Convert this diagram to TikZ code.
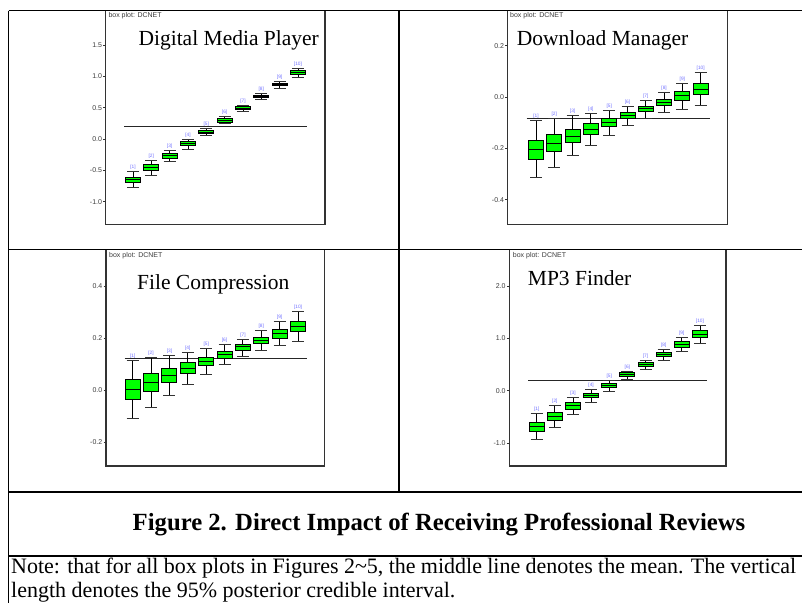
\documentclass[tikz,border=0pt]{standalone}
\usepackage{fontspec}
\setmainfont{Liberation Serif}
\newfontfamily\plotsans{Liberation Sans}
\definecolor{boxgreen}{RGB}{0,255,0}
\definecolor{labblue}{RGB}{110,110,255}
\definecolor{tickgray}{RGB}{60,60,60}
\tikzset{
  tabline/.style={line width=1.7pt, black},
  frameline/.style={line width=1.2pt, black!80},
  refline/.style={line width=1pt, black!85},
  whisk/.style={line width=0.9pt, black},
  capline/.style={line width=1pt, black!80},
  boxst/.style={draw=black, fill=boxgreen, line width=1pt},
  meanl/.style={line width=0.9pt, black},
  blab/.style={font=\plotsans\fontsize{4.8}{5}\selectfont, text=labblue, inner sep=0pt, anchor=base},
  ticklab/.style={font=\plotsans\fontsize{7}{8}\selectfont, text=tickgray, inner sep=0pt, anchor=east},
  bptitle/.style={font=\plotsans\fontsize{7}{8}\selectfont, text=tickgray, inner sep=0pt, anchor=base west},
  ptitle/.style={font=\fontsize{21.5}{24}\selectfont, inner sep=0pt, anchor=base},
  notetext/.style={font=\fontsize{22}{24}\selectfont, inner sep=0pt, anchor=base west},
}
% panel parameters: \PZ y of zero, \PU px per unit, \PX first box x, \PD spacing, \PN panel id
\newcommand\bpbox[6]{%
  \pgfmathsetmacro\bpcx{\PX+(#1-1)*\PD}%
  \pgfmathsetmacro\bpylw{\PZ-(#2)*\PU}%
  \pgfmathsetmacro\bpybl{\PZ-(#3)*\PU}%
  \pgfmathsetmacro\bpym{\PZ-(#4)*\PU}%
  \pgfmathsetmacro\bpybh{\PZ-(#5)*\PU}%
  \pgfmathsetmacro\bpyhw{\PZ-(#6)*\PU}%
  \draw[whisk] (\bpcx,\bpylw) -- (\bpcx,\bpyhw);
  \draw[capline] (\bpcx-6,\bpylw) -- (\bpcx+6,\bpylw);
  \draw[capline] (\bpcx-6,\bpyhw) -- (\bpcx+6,\bpyhw);
  \draw[boxst] (\bpcx-7.5,\bpybh) rectangle (\bpcx+7.5,\bpybl);
  \draw[meanl] (\bpcx-7.5,\bpym) -- (\bpcx+7.5,\bpym);
  \node[blab] (lab\PN-#1) at (\bpcx,\bpyhw-3) {[#1]};
}
\newcommand\bptick[3]{% frame left, value, text
  \pgfmathsetmacro\bpty{\PZ-(#2)*\PU}%
  \draw[frameline, line width=0.8pt] (#1-2.5,\bpty) -- (#1,\bpty);
  \node[ticklab] at (#1-3.5,\bpty) {#3};
}
\begin{document}
\begin{tikzpicture}[x=1pt,y=-1pt]
\useasboundingbox (0,0) rectangle (802,603);
% ---------- table ----------
\draw[tabline] (8.5,10.5) -- (802,10.5);
\draw[tabline] (8.5,10.5) -- (8.5,603);
\draw[tabline] (399,10.5) -- (399,491.7);
\draw[tabline] (8.5,249.5) -- (802,249.5);
\draw[tabline] (8.5,491.7) -- (802,491.7);
\draw[tabline] (8.5,555.7) -- (802,555.7);

% ---------- Panel 1: Digital Media Player ----------
\def\PZ{139}\def\PU{62.67}\def\PX{133}\def\PD{18.33}\def\PN{a}
\draw[frameline] (105.7,10.5) -- (105.7,224.3) -- (325,224.3) -- (325,10.5);
\node[bptitle] (bpa) at (108.3,17.6) {box plot: DCNET};
\node[ptitle] (ta) at (228.7,45) {Digital Media Player};
\bptick{105.7}{1.5}{1.5}
\bptick{105.7}{1.0}{1.0}
\bptick{105.7}{0.5}{0.5}
\bptick{105.7}{0.0}{0.0}
\bptick{105.7}{-0.5}{-0.5}
\bptick{105.7}{-1.0}{-1.0}
\draw[refline] (124,126) -- (307,126);
\bpbox{1}{-0.78}{-0.70}{-0.65}{-0.61}{-0.52}
\bpbox{2}{-0.58}{-0.51}{-0.46}{-0.41}{-0.35}
\bpbox{3}{-0.36}{-0.31}{-0.27}{-0.23}{-0.18}
\bpbox{4}{-0.16}{-0.106}{-0.075}{-0.04}{-0.005}
\bpbox{5}{0.053}{0.08}{0.11}{0.14}{0.175}
\bpbox{6}{0.245}{0.27}{0.30}{0.33}{0.356}
\bpbox{7}{0.44}{0.468}{0.49}{0.516}{0.537}
\bpbox{8}{0.63}{0.665}{0.68}{0.70}{0.72}
\bpbox{9}{0.81}{0.856}{0.872}{0.89}{0.915}
\bpbox{10}{0.984}{1.03}{1.064}{1.09}{1.12}

% ---------- Panel 2: Download Manager ----------
\def\PZ{97}\def\PU{256.5}\def\PX{536}\def\PD{18.3}\def\PN{b}
\draw[frameline] (507.7,10.5) -- (507.7,224.3) -- (727.7,224.3) -- (727.7,10.5);
\node[bptitle] (bpb) at (510,17.6) {box plot: DCNET};
\node[ptitle, anchor=base west] (tb) at (516.7,45) {Download Manager};
\bptick{507.7}{0.2}{0.2}
\bptick{507.7}{0.0}{0.0}
\bptick{507.7}{-0.2}{-0.2}
\bptick{507.7}{-0.4}{-0.4}
\draw[refline] (526.7,118.7) -- (710,118.7);
\bpbox{1}{-0.314}{-0.243}{-0.203}{-0.168}{-0.092}
\bpbox{2}{-0.273}{-0.211}{-0.181}{-0.148}{-0.083}
\bpbox{3}{-0.230}{-0.178}{-0.152}{-0.126}{-0.071}
\bpbox{4}{-0.188}{-0.147}{-0.125}{-0.105}{-0.065}
\bpbox{5}{-0.149}{-0.116}{-0.099}{-0.083}{-0.052}
\bpbox{6}{-0.112}{-0.084}{-0.073}{-0.062}{-0.036}
\bpbox{7}{-0.083}{-0.058}{-0.045}{-0.038}{-0.014}
\bpbox{8}{-0.061}{-0.035}{-0.021}{-0.009}{0.018}
\bpbox{9}{-0.047}{-0.012}{0.008}{0.023}{0.053}
\bpbox{10}{-0.034}{0.008}{0.030}{0.051}{0.095}

% ---------- Panel 3: File Compression ----------
\def\PZ{390.3}\def\PU{260}\def\PX{132.7}\def\PD{18.37}\def\PN{c}
\draw[frameline] (106,249.5) -- (106,466) -- (324.3,466) -- (324.3,249.5);
\node[bptitle] (bpc) at (109,257.6) {box plot: DCNET};
\node[ptitle] (tc) at (213.3,289) {File Compression};
\bptick{106}{0.4}{0.4}
\bptick{106}{0.2}{0.2}
\bptick{106}{0.0}{0.0}
\bptick{106}{-0.2}{-0.2}
\draw[refline] (124.7,358.3) -- (306.7,358.3);
\bpbox{1}{-0.109}{-0.035}{0.004}{0.042}{0.115}
\bpbox{2}{-0.065}{-0.003}{0.032}{0.065}{0.126}
\bpbox{3}{-0.021}{0.029}{0.058}{0.085}{0.135}
\bpbox{4}{0.021}{0.063}{0.085}{0.106}{0.147}
\bpbox{5}{0.060}{0.095}{0.112}{0.127}{0.159}
\bpbox{6}{0.099}{0.124}{0.138}{0.150}{0.177}
\bpbox{7}{0.131}{0.155}{0.167}{0.178}{0.197}
\bpbox{8}{0.155}{0.181}{0.192}{0.204}{0.229}
\bpbox{9}{0.173}{0.201}{0.218}{0.233}{0.265}
\bpbox{10}{0.187}{0.226}{0.246}{0.265}{0.305}

% ---------- Panel 4: MP3 Finder ----------
\def\PZ{390.7}\def\PU{52.33}\def\PX{536.7}\def\PD{18.14}\def\PN{d}
\draw[frameline] (509.3,249.5) -- (509.3,466) -- (726,466) -- (726,249.5);
\node[bptitle] (bpd) at (512.7,257.6) {box plot: DCNET};
\node[ptitle, anchor=base west] (td) at (527.7,285) {MP3 Finder};
\bptick{509.3}{2.0}{2.0}
\bptick{509.3}{1.0}{1.0}
\bptick{509.3}{0.0}{0.0}
\bptick{509.3}{-1.0}{-1.0}
\draw[refline] (528.3,380.3) -- (707.3,380.3);
\bpbox{1}{-0.93}{-0.77}{-0.69}{-0.60}{-0.44}
\bpbox{2}{-0.70}{-0.57}{-0.49}{-0.41}{-0.29}
\bpbox{3}{-0.46}{-0.35}{-0.29}{-0.23}{-0.13}
\bpbox{4}{-0.22}{-0.13}{-0.09}{-0.05}{0.025}
\bpbox{5}{-0.006}{0.064}{0.10}{0.14}{0.19}
\bpbox{6}{0.217}{0.27}{0.306}{0.34}{0.376}
\bpbox{7}{0.41}{0.465}{0.50}{0.535}{0.573}
\bpbox{8}{0.58}{0.656}{0.694}{0.726}{0.78}
\bpbox{9}{0.74}{0.834}{0.89}{0.94}{1.02}
\bpbox{10}{0.90}{1.01}{1.08}{1.146}{1.255}

% ---------- caption and note ----------
\node[font=\bfseries\fontsize{24.7}{28}\selectfont, inner sep=0pt, anchor=base] (cap) at (439,530.5)
  {Figure 2. Direct Impact of Receiving Professional Reviews};
\node[notetext] (note1) at (11,573.3)
  {\makebox[785pt][s]{Note: that for all box plots in Figures 2\textasciitilde5, the middle line denotes the mean. The vertical}};
\node[notetext] (note2) at (11,597.7)
  {length denotes the 95\% posterior credible interval.};
\end{tikzpicture}
\end{document}
